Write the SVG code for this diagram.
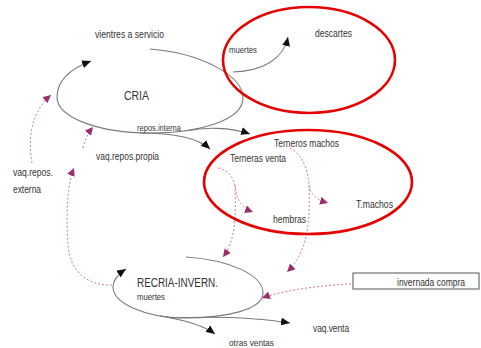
<svg xmlns="http://www.w3.org/2000/svg" width="481" height="348" viewBox="0 0 481 348">
<style>
text{font-family:"Liberation Sans",Arial,sans-serif;fill:#333;}
.s{fill:none;stroke:#7a7a7a;stroke-width:1.1;}
.d{fill:none;stroke:#cf7aa0;stroke-width:1;stroke-dasharray:2,2;}
.r{fill:none;stroke:#e60000;stroke-width:2.6;}
</style>
<defs>
<marker id="ab" markerUnits="userSpaceOnUse" markerWidth="10" markerHeight="8" refX="9" refY="4" orient="auto"><path d="M0,0 L9,4 L0,8 z" fill="#111"/></marker>
<marker id="ap" markerUnits="userSpaceOnUse" markerWidth="9" markerHeight="8" refX="8" refY="4" orient="auto"><path d="M0,0 L8,4 L0,8 z" fill="#9b2f6e"/></marker>
</defs>
<g id="connectors">
<path class="s" d="M150,49 C200,53 243,75 243,98 C243,120 200,133 150,133 C100,133 57,118 57,97 C57,80 70,69 91,61" marker-end="url(#ab)"/>
<path class="s" d="M233,72 C262,71 283,60 288,37" marker-end="url(#ab)"/>
<path class="s" d="M185,131 C205,127 230,127 250,134" marker-end="url(#ab)"/>
<path class="s" d="M140,133 C175,133 198,138 210,149" marker-end="url(#ab)"/>
<path class="s" d="M186,257 C230,260 263,275 263,293 C263,310 225,318 185,318 C145,318 113,303 113,287 C113,280 117,275 126,269" marker-end="url(#ab)"/>
<path class="s" d="M160,316 C185,320 203,325 215,334" marker-end="url(#ab)"/>
<path class="s" d="M170,318 C220,316 260,318 290,323" marker-end="url(#ab)"/>
<path class="d" d="M32,163 C27,135 33,110 51,95" marker-end="url(#ap)"/>
<path class="d" d="M83,148 C85,140 88,133 93,127" marker-end="url(#ap)"/>
<path class="d" d="M112,285 C88,286 70,272 68,245 C66,215 67,185 74,168" marker-end="url(#ap)"/>
<path class="d" d="M218,168 C230,170 235,180 236,192 C238,203 245,209 253,212" marker-end="url(#ap)"/>
<path class="d" d="M235,185 C236,215 236,240 223,257" marker-end="url(#ap)"/>
<path class="d" d="M290,148 C303,155 308,170 309,185 C310,195 318,200 328,203" marker-end="url(#ap)"/>
<path class="d" d="M309,185 C310,215 310,250 287,272" marker-end="url(#ap)"/>
<path class="d" d="M383,283 C340,283 290,288 262,298" marker-end="url(#ap)"/>
</g>
<g id="highlight-descartes"><ellipse class="r" cx="309" cy="60" rx="86" ry="53"/></g>
<g id="highlight-terneros"><ellipse class="r" cx="308" cy="182" rx="104" ry="52"/></g>
<g id="cria"><text x="124" y="100" font-size="13" textLength="25" lengthAdjust="spacingAndGlyphs">CRIA</text></g>
<g id="vientres"><text x="95" y="38" font-size="10" textLength="69" lengthAdjust="spacingAndGlyphs">vientres a servicio</text></g>
<g id="muertes-cria"><text x="229" y="53" font-size="9" textLength="28" lengthAdjust="spacingAndGlyphs">muertes</text></g>
<g id="descartes"><text x="315" y="37" font-size="10" textLength="37" lengthAdjust="spacingAndGlyphs">descartes</text></g>
<g id="repos-interna"><text x="137" y="131" font-size="9" textLength="44" lengthAdjust="spacingAndGlyphs">repos.interna</text></g>
<g id="vaq-repos-propia"><text x="96" y="160" font-size="10" textLength="63" lengthAdjust="spacingAndGlyphs">vaq.repos.propia</text></g>
<g id="vaq-repos-externa"><text x="13" y="176" font-size="10" textLength="40" lengthAdjust="spacingAndGlyphs">vaq.repos.</text><text x="13" y="193" font-size="10" textLength="28" lengthAdjust="spacingAndGlyphs">externa</text></g>
<g id="terneros-machos"><text x="274" y="147" font-size="10" textLength="65" lengthAdjust="spacingAndGlyphs">Terneros machos</text></g>
<g id="terneras-venta"><text x="230" y="162" font-size="10" textLength="56" lengthAdjust="spacingAndGlyphs">Terneras venta</text></g>
<g id="hembras"><text x="273" y="223" font-size="10" textLength="33" lengthAdjust="spacingAndGlyphs">hembras</text></g>
<g id="t-machos"><text x="356" y="208" font-size="10" textLength="37" lengthAdjust="spacingAndGlyphs">T.machos</text></g>
<g id="recria"><text x="137" y="287" font-size="12" textLength="81" lengthAdjust="spacingAndGlyphs">RECRIA-INVERN.</text><text x="137" y="300" font-size="9" textLength="28" lengthAdjust="spacingAndGlyphs">muertes</text></g>
<g id="otras-ventas"><text x="229" y="346" font-size="9.5" textLength="45" lengthAdjust="spacingAndGlyphs">otras ventas</text></g>
<g id="vaq-venta"><text x="313" y="332" font-size="10" textLength="36" lengthAdjust="spacingAndGlyphs">vaq.venta</text></g>
<g id="invernada-compra"><rect x="353" y="273" width="126" height="16" fill="#fff" stroke="#555" stroke-width="1"/><text x="397" y="286" font-size="10" textLength="68" lengthAdjust="spacingAndGlyphs">invernada compra</text></g>
</svg>
